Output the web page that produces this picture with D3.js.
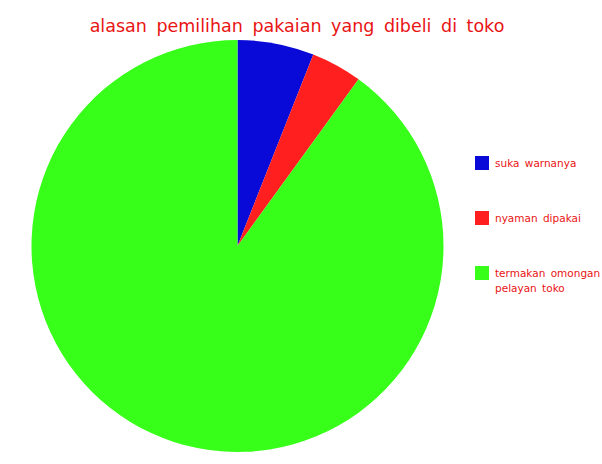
<!DOCTYPE html>
<html>
<head>
<meta charset="utf-8">
<script src="https://cdn.jsdelivr.net/npm/d3@7"></script>
<style>
  body { margin: 0; background: #fff; }
  text { font-family: "DejaVu Sans", sans-serif; fill: #e81414; }
</style>
</head>
<body>
<script>
const categories = ["suka warnanya", "nyaman dipakai", "termakan omongan pelayan toko"];
const values     = [6, 4, 90];
const colors     = ["#0a0ad8", "#ff1f1f", "#38ff1a"];
const title      = "alasan pemilihan pakaian yang dibeli di toko";

const width  = 602;
const height = 464;
const center = {x: 237.5, y: 246};
const radius = 206;

const svg = d3.select("body")
  .append("svg")
  .attr("width", width)
  .attr("height", height);

svg.append("text")
  .attr("x", 297)
  .attr("y", 32)
  .attr("text-anchor", "middle")
  .style("font-size", "17.5px")
  .style("word-spacing", "4px")
  .text(title);

const pie = d3.pie().sort(null).value(d => d);
const arc = d3.arc().innerRadius(0).outerRadius(radius);

const pieG = svg.append("g")
  .attr("transform", `translate(${center.x},${center.y})`);

pieG.selectAll("path")
  .data(pie(values))
  .join("path")
  .attr("d", arc)
  .attr("fill", (d, i) => colors[i]);

// legend, long labels wrapped onto a second line
const legendY = d3.scalePoint().domain(categories).range([163, 273]);

const legend = svg.append("g");
const item = legend.selectAll("g")
  .data(categories)
  .join("g")
  .attr("transform", d => `translate(475,${legendY(d)})`);

item.append("rect")
  .attr("x", 0)
  .attr("y", -7)
  .attr("width", 14)
  .attr("height", 14)
  .attr("fill", (d, i) => colors[i]);

item.append("text")
  .attr("x", 20)
  .attr("y", 4)
  .style("font-size", "10.5px")
  .style("word-spacing", "2px")
  .each(function (d) {
    const t = d3.select(this);
    const lines = d.length > 20 ? ["termakan omongan", "pelayan toko"] : [d];
    lines.forEach((l, j) => {
      t.append("tspan").attr("x", 20).attr("dy", j ? 15 : 0).text(l);
    });
  });
</script>
</body>
</html>
